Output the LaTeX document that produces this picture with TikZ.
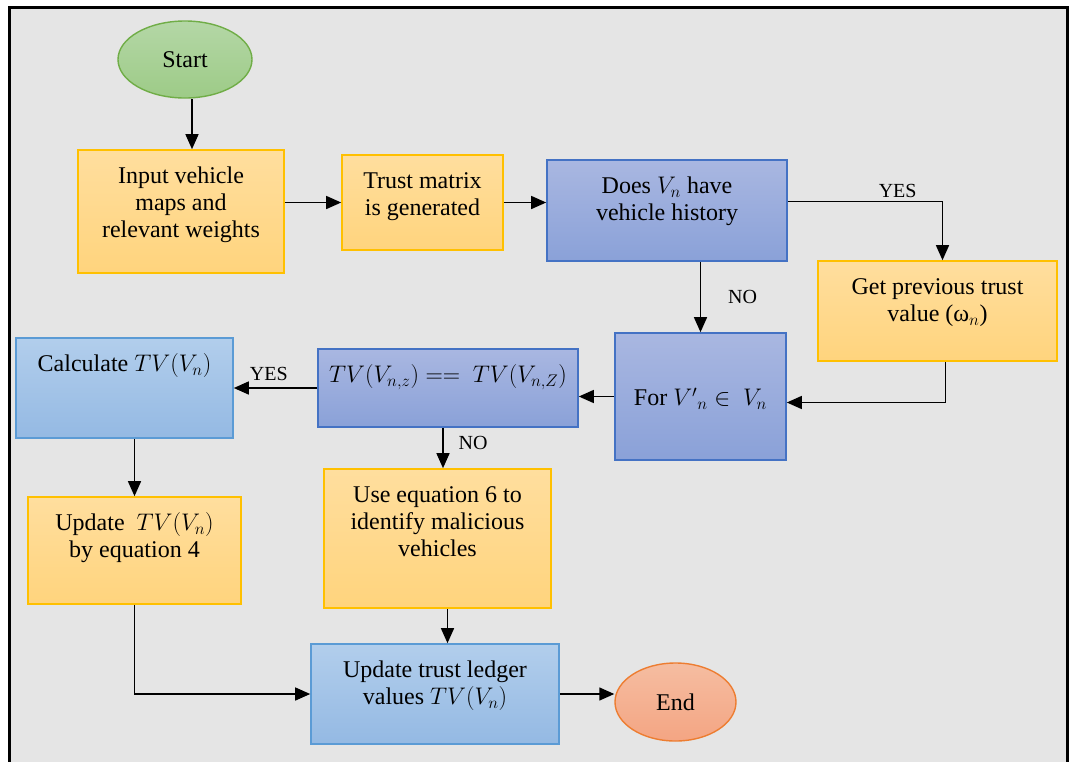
\RequirePackage{fix-cm}
\documentclass[tikz,border=0pt]{standalone}
\usepackage{fontspec}
\setmainfont{Liberation Serif}
\usetikzlibrary{shapes.geometric,arrows.meta}

\definecolor{pagebg}{RGB}{229,229,229}
\definecolor{yelTop}{RGB}{255,222,158}
\definecolor{yelBot}{RGB}{255,212,125}
\definecolor{yelLine}{RGB}{255,192,0}
\definecolor{bluTop}{RGB}{169,183,225}
\definecolor{bluBot}{RGB}{138,161,216}
\definecolor{bluLine}{RGB}{68,114,196}
\definecolor{skyTop}{RGB}{178,206,236}
\definecolor{skyBot}{RGB}{148,185,227}
\definecolor{skyLine}{RGB}{91,155,213}
\definecolor{grnTop}{RGB}{180,215,166}
\definecolor{grnBot}{RGB}{157,203,135}
\definecolor{grnLine}{RGB}{112,173,71}
\definecolor{orgTop}{RGB}{245,189,161}
\definecolor{orgBot}{RGB}{244,165,131}
\definecolor{orgLine}{RGB}{237,125,49}

% box body: width, height, text hung from the top edge
\newcommand{\bx}[4][15]{\parbox[c][#3pt][t]{#2pt}{\centering\vspace*{#1pt}\strut #4}}

\tikzset{
  boxbase/.style={draw, line width=1.6pt, inner sep=0pt, font=\fontsize{24pt}{27pt}\selectfont},
  ybox/.style={boxbase, draw=yelLine, top color=yelTop, bottom color=yelBot},
  bbox/.style={boxbase, draw=bluLine, top color=bluTop, bottom color=bluBot},
  sbox/.style={boxbase, draw=skyLine, top color=skyTop, bottom color=skyBot},
  term/.style={ellipse, draw, line width=1.4pt, inner sep=0pt, font=\fontsize{24pt}{27pt}\selectfont},
  arr/.style={line width=1.4pt, -{Triangle[length=15pt,width=13pt]}},
  lbl/.style={font=\fontsize{20pt}{24pt}\selectfont, inner sep=0pt}
}

\begin{document}
\begin{tikzpicture}[x=1pt,y=-1pt]
\useasboundingbox (0,0) rectangle (1069,761);
\clip (0,0) rectangle (1069,761);
\fill[white] (0,0) rectangle (1069,761);
\draw[line width=3pt, fill=pagebg] (9,7) rectangle (1067,790);

% terminals
\node[term, draw=grnLine, top color=grnTop, bottom color=grnBot,
      minimum width=134pt, minimum height=77pt] (start) at (185,59.5) {Start};
\node[term, draw=orgLine, top color=orgTop, bottom color=orgBot,
      minimum width=121pt, minimum height=78pt] (end) at (675.5,702) {End};

% process boxes
\node[ybox] (inp)   at (181,211.5) {\bx{206}{123}{Input vehicle\\maps and\\relevant weights}};
\node[ybox] (trust) at (422.5,202.5) {\bx{161}{95}{Trust matrix\\is generated}};
\node[bbox] (does)  at (667,210.5) {\bx{240}{101}{Does $V_n$ have\\vehicle history}};
\node[ybox] (getp)  at (937.5,311) {\bx{239}{100}{Get previous trust\\value (ω$_n$)}};
\node[bbox] (for)   at (700.5,396.5) {\bx[54]{171}{127}{For ${V'}_n\in\ V_n$}};
\node[bbox] (tv)    at (448,388) {\bx{260}{78}{$TV(V_{n,z}) ==\ TV(V_{n,Z})$}};
\node[sbox] (calc)  at (124.5,388) {\bx{217}{100}{Calculate $TV(V_n)$}};
\node[ybox] (upd)   at (134.5,550.5) {\bx{213}{107}{Update\ \ $TV(V_n)$\\by equation 4}};
\node[ybox] (use)   at (437.5,538.5) {\bx{227}{139}{Use equation 6 to\\identify malicious\\vehicles}};
\node[sbox] (led)   at (435,694) {\bx{248}{100}{Update trust ledger\\values $TV(V_n)$}};

% connectors
\draw[arr] ([xshift=7pt]start.south) -- ([xshift=7pt]start.south |- inp.north);
\draw[arr] (inp.east |- trust.west) -- (trust.west);
\draw[arr] (trust.east) -- (trust.east -| does.west);
\draw[arr] ([yshift=9pt]does.east) -| ([xshift=5pt]getp.north)
  node[lbl, pos=0.355, above=3pt] (yes1) {YES};
\draw[arr] (for.north |- does.south) -- (for.north)
  node[lbl, midway, right=27pt] (no1) {NO};
\draw[arr] ([xshift=8pt]getp.south) |- ([yshift=-6pt]for.east);
\draw[arr] (for.west) -- (for.west -| tv.east);
\draw[arr] (tv.west) -- (calc.east)
  node[lbl, pos=0.58, above=7pt] (yes2) {YES};
\draw[arr] ([xshift=-5pt]tv.south) -- ([xshift=-5pt]tv.south |- use.north)
  node[lbl, pos=0.38, right=15pt] (no2) {NO};
\draw[arr] (upd.north |- calc.south) -- (upd.north);
\draw[arr] (upd.south) |- (led.west);
\draw[arr] ([xshift=10pt]use.south) -- ([xshift=10pt]use.south |- led.north);
\draw[arr] (led.east) -- (led.east -| end.west);
\end{tikzpicture}
\end{document}
